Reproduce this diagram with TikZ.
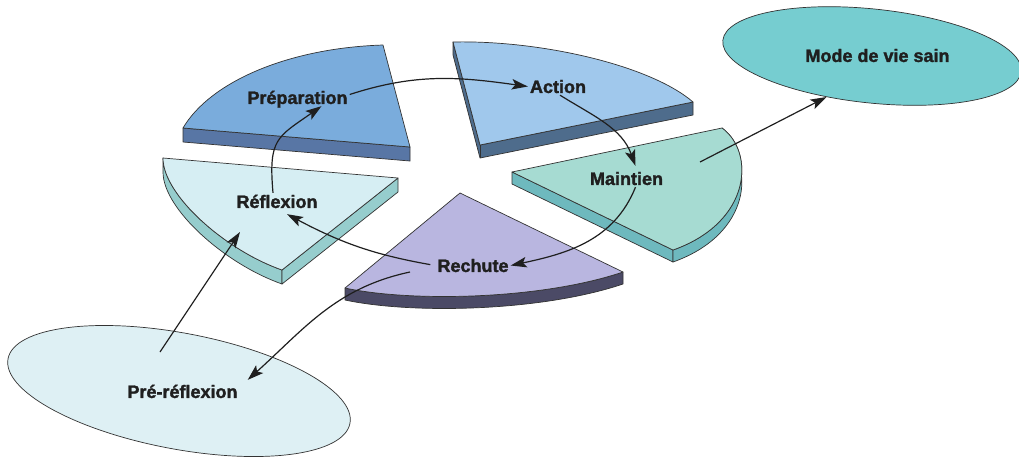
\documentclass[tikz,border=0pt]{standalone}
\usepackage{fontspec}
\setmainfont{Liberation Sans}
\newfontfamily\stagefont{Liberation Sans}[BoldFeatures={FakeBold=1.6}]
\usetikzlibrary{arrows.meta,shapes.geometric}

\definecolor{prepTop}{HTML}{7AACDC}
\definecolor{prepSide}{HTML}{5876A5}
\definecolor{actTop}{HTML}{A0C8EC}
\definecolor{actSide}{HTML}{4E6C8C}
\definecolor{mainTop}{HTML}{A6DBD2}
\definecolor{mainSide}{HTML}{6EB9BE}
\definecolor{reflTop}{HTML}{D6EEF3}
\definecolor{reflSide}{HTML}{96CDCD}
\definecolor{rechTop}{HTML}{B9B6E0}
\definecolor{rechSide}{HTML}{4B4A66}
\definecolor{preFill}{HTML}{DEF0F4}
\definecolor{modeFill}{HTML}{76CDD0}

\begin{document}
\begin{tikzpicture}[x=1pt,y=-1pt,
  slab/.style={draw=black!80,line width=0.7pt,line join=round},
  stage/.style={font=\fontsize{18}{20}\stagefont\bfseries,text=black!88,
    text height=12.9pt,text depth=0pt,inner sep=2pt},
  cycleflow/.style={-{Stealth[length=16pt,width=10.5pt,inset=3.5pt]},line width=1.2pt,draw=black!88}]
\useasboundingbox (0,0) rectangle (1019,459);

% Outer ellipses
\node[ellipse,slab,fill=preFill,minimum width=348pt,minimum height=116pt,
  rotate=-10.7] (prebg) at (179,391) {};
\node[ellipse,slab,fill=modeFill,minimum width=300pt,minimum height=94pt,
  rotate=-6] (modebg) at (872,56) {};

% Preparation slice
\filldraw[slab,fill=prepSide] (183,128) -- (410,147) -- (410,161) -- (183,142) -- cycle;
\filldraw[slab,fill=prepTop] (410,147) -- (183,128) .. controls (210,82) and (288,48) .. (383,45) -- cycle;

% Action slice
\filldraw[slab,fill=actSide] (453,42) -- (480,145) -- (693,102) -- (693,115) -- (480,158) -- (453,55) -- cycle;
\draw[slab] (480,145) -- (480,158);
\filldraw[slab,fill=actTop] (480,145) -- (453,42) .. controls (540,40) and (650,65) .. (693,102) -- cycle;

% Maintien slice
\filldraw[slab,fill=mainSide] (512,172) -- (673,250) -- (673,262) -- (512,184) -- cycle;
\filldraw[slab,fill=mainSide] (722,128) .. controls (755,152) and (752,222) .. (673,250) -- (673,262) .. controls (752,234) and (755,164) .. (722,140) -- cycle;
\filldraw[slab,fill=mainTop] (512,172) -- (722,128) .. controls (755,152) and (752,222) .. (673,250) -- cycle;

% Reflexion slice
\filldraw[slab,fill=reflSide] (163,158) .. controls (163,195) and (225,250) .. (282,270) -- (282,284) .. controls (225,264) and (163,209) .. (163,172) -- cycle;
\filldraw[slab,fill=reflSide] (282,270) -- (398,178) -- (398,192) -- (282,284) -- cycle;
\filldraw[slab,fill=reflTop] (398,178) -- (163,158) .. controls (163,195) and (225,250) .. (282,270) -- cycle;

% Rechute slice
\filldraw[slab,fill=rechSide] (345,288) .. controls (410,302) and (540,300) .. (623,272) -- (623,284) .. controls (540,312) and (410,314) .. (345,300) -- cycle;
\filldraw[slab,fill=rechTop] (460,193) -- (623,272) .. controls (540,300) and (410,302) .. (345,288) -- cycle;

% Stage names
\node[stage] (prep) at (297.5,97.5) {Préparation};
\node[stage] (action) at (558,86.5) {Action};
\node[stage] (maint) at (626.5,178.5) {Maintien};
\node[stage] (refl) at (277,201.5) {Réflexion};
\node[stage] (rechute) at (473,265.5) {Rechute};
\node[stage] (prerefl) at (182.5,391.5) {Pré-réflexion};
\node[stage] (mode) at (877.5,55.5) {Mode de vie sain};

% Free arrow ends
\coordinate (rechuteout) at (410,272);
\coordinate (prereflout) at (160,352);
\coordinate (reflin) at (240,232);
\coordinate (maintout) at (700,162);

% Cycle arrows
\draw[cycleflow] ([yshift=3pt]prep.east) to[out=18,in=172] (action.west);
\draw[cycleflow] ([xshift=2pt]action.south) to[out=-32,in=110] ([xshift=9pt,yshift=4pt]maint.north);
\draw[cycleflow] ([xshift=9pt]maint.south) to[out=-112,in=12] (rechute.east);
\draw[cycleflow,shorten <=5pt] (rechute.west) to[out=170,in=-28] ([xshift=10pt,yshift=-4pt]refl.south);
\draw[cycleflow] ([xshift=-4pt]refl.north) to[out=95,in=-145,looseness=1.4] ([xshift=24pt]prep.south);

% Exits
\draw[cycleflow] (rechuteout) to[out=-168,in=42] ([xshift=8pt,yshift=3pt]prerefl.north east);
\draw[cycleflow] (prereflout) -- (reflin);
\draw[cycleflow] (maintout) -- (modebg.228);
\end{tikzpicture}
\end{document}
